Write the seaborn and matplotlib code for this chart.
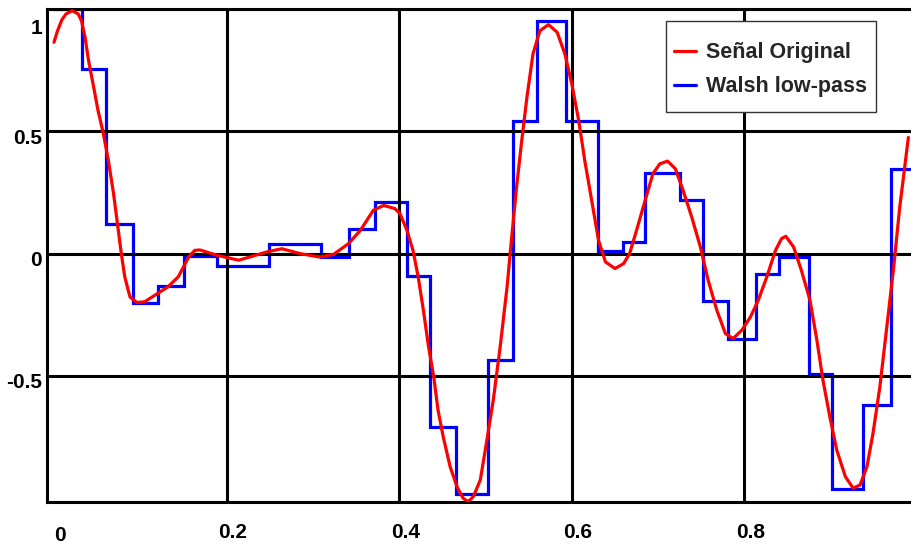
import numpy as np
import pandas as pd
import matplotlib
matplotlib.use("Agg")
import matplotlib.pyplot as plt
import matplotlib.transforms as mtransforms
from matplotlib.patches import Rectangle
import seaborn as sns

# Original signal samples
signal_x = [0.000, 0.004, 0.009, 0.014, 0.021, 0.028, 0.032, 0.036, 0.040, 0.046,
            0.051, 0.057, 0.063, 0.069, 0.074, 0.078, 0.082, 0.088, 0.096, 0.105,
            0.117, 0.132, 0.144, 0.156, 0.163, 0.169, 0.189, 0.214, 0.247, 0.264,
            0.285, 0.308, 0.324, 0.341, 0.355, 0.370, 0.382, 0.395, 0.401, 0.409,
            0.416, 0.422, 0.428, 0.434, 0.440, 0.445, 0.451, 0.459, 0.467, 0.474,
            0.480, 0.486, 0.494, 0.501, 0.509, 0.517, 0.525, 0.530, 0.536, 0.542,
            0.548, 0.555, 0.563, 0.573, 0.583, 0.592, 0.600, 0.608, 0.615, 0.623,
            0.631, 0.639, 0.650, 0.660, 0.667, 0.675, 0.685, 0.694, 0.702, 0.711,
            0.720, 0.729, 0.739, 0.749, 0.758, 0.768, 0.778, 0.787, 0.797, 0.807,
            0.816, 0.826, 0.836, 0.843, 0.848, 0.857, 0.866, 0.876, 0.884, 0.891,
            0.899, 0.907, 0.917, 0.926, 0.934, 0.942, 0.949, 0.957, 0.965, 0.973,
            0.980, 0.990]
signal_y = [0.864, 0.91, 0.955, 0.98, 0.993, 0.98, 0.95, 0.884, 0.79, 0.68,
            0.585, 0.494, 0.381, 0.245, 0.109, 0.0, -0.095, -0.177, -0.20, -0.197,
            -0.17, -0.136, -0.095, -0.014, 0.013, 0.015, -0.007, -0.027, 0.007, 0.02,
            0.0, -0.014, -0.003, 0.04, 0.095, 0.177, 0.197, 0.184, 0.163, 0.095,
            0.013, -0.095, -0.231, -0.381, -0.503, -0.64, -0.749, -0.871, -0.953, -1.0,
            -1.014, -0.993, -0.925, -0.776, -0.599, -0.381, -0.136, 0.054, 0.272, 0.462,
            0.639, 0.816, 0.911, 0.936, 0.905, 0.816, 0.694, 0.544, 0.381, 0.218,
            0.054, -0.034, -0.061, -0.041, 0.0, 0.095, 0.218, 0.327, 0.367, 0.378,
            0.347, 0.258, 0.149, 0.027, -0.109, -0.231, -0.327, -0.347, -0.313, -0.259,
            -0.191, -0.095, 0.013, 0.061, 0.071, 0.027, -0.068, -0.191, -0.354, -0.517,
            -0.667, -0.803, -0.912, -0.959, -0.946, -0.871, -0.735, -0.544, -0.3, -0.055,
            0.19, 0.475]

# Walsh low-pass approximation: breakpoints and piecewise-constant levels
walsh_edges = [0.000, 0.033, 0.060, 0.091, 0.120, 0.151, 0.189, 0.219, 0.249, 0.279,
               0.309, 0.342, 0.372, 0.409, 0.436, 0.466, 0.503, 0.532, 0.560, 0.593,
               0.630, 0.659, 0.685, 0.725, 0.752, 0.781, 0.813, 0.840, 0.875, 0.902,
               0.938, 0.970, 1.000]
walsh_levels = [1.0, 0.755, 0.12, -0.20, -0.132, -0.01, -0.05, -0.05, 0.04, 0.04,
                -0.012, 0.10, 0.21, -0.09, -0.71, -0.983, -0.437, 0.541, 0.95, 0.541,
                0.012, 0.049, 0.33, 0.22, -0.195, -0.351, -0.083, -0.014, -0.491, -0.963,
                -0.618, 0.347]

x_ticks = [0, 0.2, 0.4, 0.6, 0.8, 1.0]
x_tick_labels = ["0", "0.2", "0.4", "0.6", "0.8", "1"]
y_ticks = [-0.5, 0, 0.5, 1]
y_tick_labels = ["-0.5", "0", "0.5", "1"]

sns.set_theme(style="white")
plt.rcParams["font.family"] = ["Liberation Sans", "DejaVu Sans"]
plt.rcParams["font.weight"] = "bold"

W, H = 912, 544
fig = plt.figure(figsize=(W / 100, H / 100), dpi=100)
fig.patch.set_facecolor("white")
left_px, right_px, top_px, bottom_px = 47.5, 917.0, 9.0, 502.0
ax = fig.add_axes([left_px / W, 1 - bottom_px / H,
                   (right_px - left_px) / W, (bottom_px - top_px) / H])
ax.set_facecolor("white")

signal_df = pd.DataFrame({"x": signal_x, "y": signal_y})
walsh_df = pd.DataFrame({"x": walsh_edges,
                         "y": walsh_levels + [walsh_levels[-1]]})

sns.lineplot(data=walsh_df, x="x", y="y", ax=ax, color="#0000ff", linewidth=2.3,
             drawstyle="steps-post", label="Walsh low-pass", zorder=2,
             solid_joinstyle="miter")
sns.lineplot(data=signal_df, x="x", y="y", ax=ax, color="#ff0000", linewidth=2.3,
             label="Señal Original", zorder=3, sort=False)

x0 = (left_px - 54.0) / 863.0
ax.set_xlim(x0, x0 + (right_px - left_px) / 863.0)
ax.set_ylim(-1.0155, 1.0)

ax.set_xticks(x_ticks)
ax.set_xticklabels(x_tick_labels)
ax.set_yticks(y_ticks)
ax.set_yticklabels(y_tick_labels)
ax.set_xlabel("")
ax.set_ylabel("")

ax.set_axisbelow(False)
ax.grid(True, color="black", linewidth=2.2)
for s in ax.spines.values():
    s.set_color("black")
    s.set_linewidth(2.2)
ax.spines["right"].set_visible(False)

ax.tick_params(axis="both", length=0, labelsize=15, labelcolor="black")
ax.tick_params(axis="x", pad=15)
ax.tick_params(axis="y", pad=4)

fig.canvas.draw()
# no grid line at x = 0: the frame edge sits just left of it
ax.xaxis.get_major_ticks()[0].gridline.set_visible(False)

def nudge(label, dx, dy):
    label.set_transform(label.get_transform() + mtransforms.Affine2D().translate(dx, dy))

for i, lab in enumerate(ax.get_xticklabels()):
    nudge(lab, 6, -3 if i == 0 else 0)
for lab in ax.get_yticklabels():
    nudge(lab, 0, -18 if lab.get_text() == "1" else -5)

# legend frame drawn as its own box, the entries placed inside it
frame = Rectangle((666.5 / W, 1 - 111.7 / H), (876 - 666.5) / W, (111.7 - 20.7) / H,
                  transform=fig.transFigure, facecolor="white", edgecolor="#333333",
                  linewidth=1.0, zorder=9, clip_on=False)
ax.add_patch(frame)

handles, labels = ax.get_legend_handles_labels()
order = [labels.index("Señal Original"), labels.index("Walsh low-pass")]
leg = ax.legend([handles[i] for i in order], [labels[i] for i in order],
                loc="upper left", bbox_to_anchor=(667.5 / W, 1 - 36.0 / H),
                bbox_transform=fig.transFigure, borderaxespad=0,
                frameon=False, prop={"weight": "bold", "size": 15.5},
                handlelength=1.02, handletextpad=0.47, labelspacing=0.6,
                borderpad=0.3)
leg.set_zorder(10)

fig.savefig("out.png", dpi=100, facecolor="white")
